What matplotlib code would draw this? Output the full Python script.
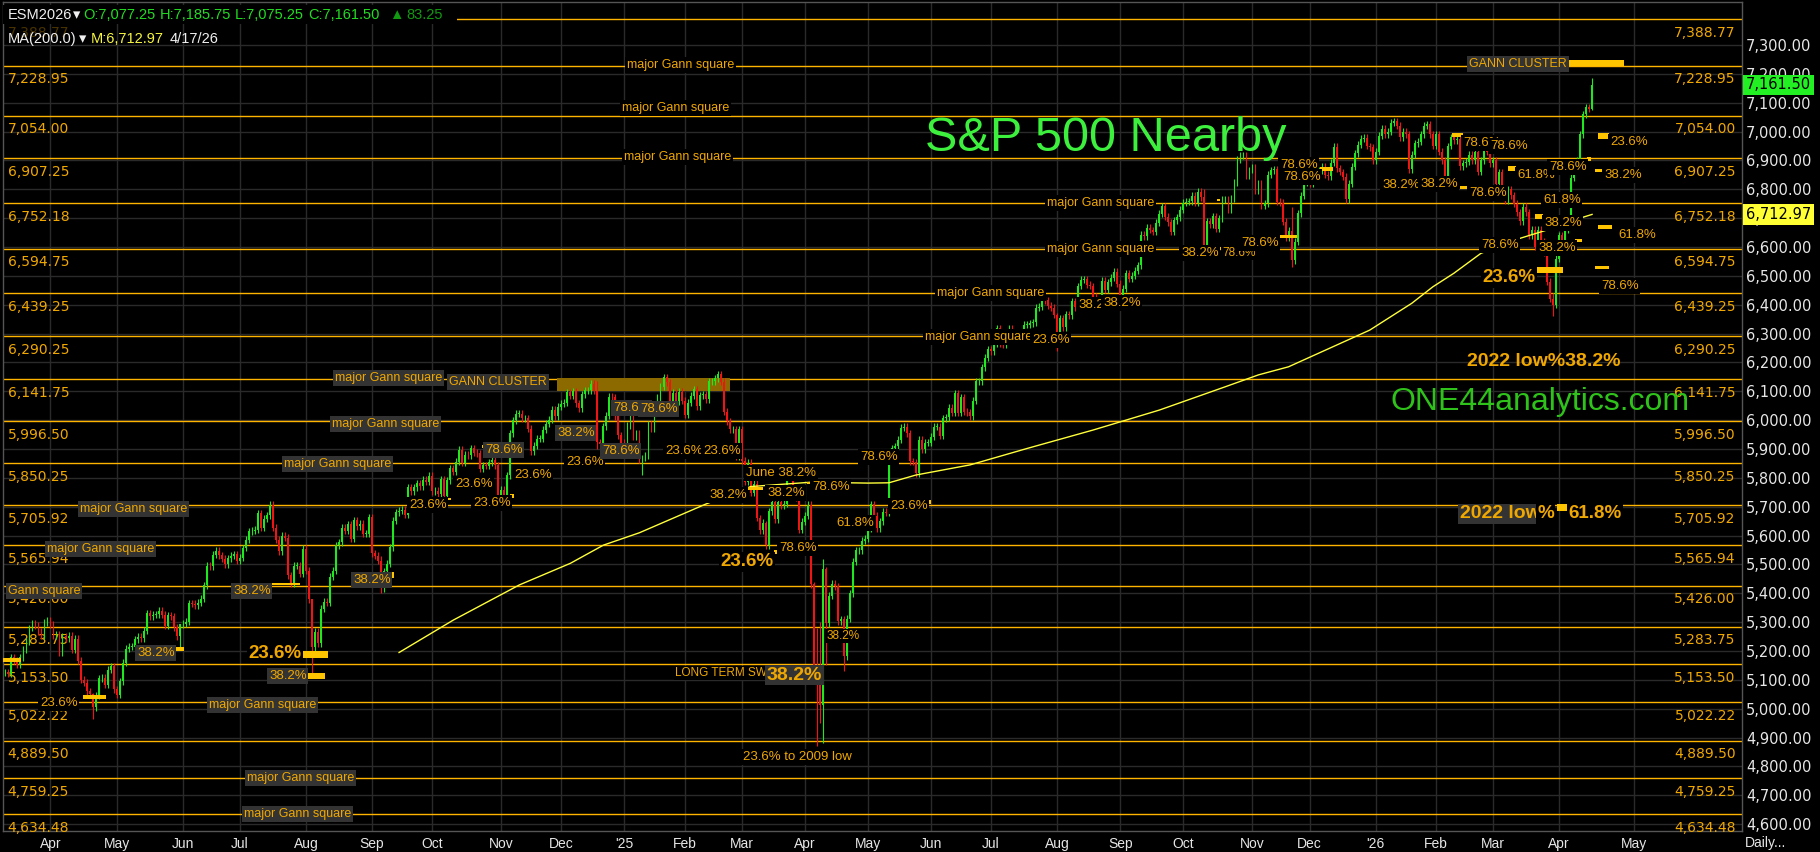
import numpy as np
import pandas as pd
import matplotlib
matplotlib.use('Agg')
import matplotlib.pyplot as plt
from matplotlib.patches import Rectangle

plt.rcParams['font.family'] = ['Liberation Sans', 'DejaVu Sans']

# ---------------- data ----------------
holidays = ['2024-03-29', '2024-05-27', '2024-06-19', '2024-07-04', '2024-09-02',
            '2024-11-28', '2024-12-25', '2025-01-01', '2025-01-09', '2025-01-20',
            '2025-02-17', '2025-04-18', '2025-05-26', '2025-06-19', '2025-07-04',
            '2025-09-01', '2025-11-27', '2025-12-25', '2026-01-01', '2026-01-19',
            '2026-02-16', '2026-04-03']
dates = pd.bdate_range('2024-03-08', '2026-04-17')
dates = dates[~dates.isin(pd.to_datetime(holidays))]

# daily closes of the nearby contract, month by month
c_2024_03 = [5127, 5121, 5178, 5168, 5153, 5178, 5204, 5233, 5280, 5296, 5289, 5269, 5255, 5300, 5305]
c_2024_04 = [5291, 5253, 5258, 5194, 5251, 5245, 5253, 5204, 5242, 5166, 5101, 5090, 5061, 5050, 5006,
             5046, 5106, 5107, 5083, 5135, 5147, 5067]
c_2024_05 = [5049, 5095, 5159, 5208, 5215, 5215, 5241, 5250, 5244, 5270, 5331, 5320, 5326, 5327, 5340,
             5326, 5287, 5324, 5321, 5282, 5251, 5293]
c_2024_06 = [5294, 5302, 5365, 5364, 5358, 5368, 5382, 5428, 5496, 5493, 5533, 5547, 5532, 5520, 5500,
             5521, 5530, 5535, 5512]
c_2024_07 = [5523, 5557, 5585, 5615, 5617, 5621, 5678, 5628, 5659, 5671, 5707, 5628, 5585, 5545, 5600,
             5592, 5463, 5435, 5495, 5495, 5468, 5554]
c_2024_08 = [5479, 5379, 5213, 5267, 5227, 5346, 5371, 5367, 5457, 5478, 5566, 5577, 5627, 5616, 5640,
             5590, 5654, 5632, 5641, 5607, 5607, 5663]
c_2024_09 = [5539, 5530, 5513, 5418, 5477, 5502, 5560, 5652, 5681, 5687, 5689, 5672, 5767, 5754, 5768,
             5782, 5771, 5794, 5787, 5808]
c_2024_10 = [5754, 5755, 5745, 5796, 5737, 5792, 5833, 5821, 5856, 5897, 5852, 5880, 5879, 5902, 5888,
             5885, 5831, 5844, 5842, 5854, 5863, 5844, 5735]
c_2024_11 = [5759, 5739, 5809, 5955, 5999, 6022, 6023, 6006, 6007, 5971, 5893, 5912, 5935, 5935, 5967,
             5987, 6001, 6036, 6013, 6046]
c_2024_12 = [6057, 6060, 6097, 6085, 6100, 6059, 6041, 6090, 6104, 6104, 6126, 6102, 5923, 5917, 5979,
             6016, 6082, 6080, 6013, 5947, 5922]
c_2025_01 = [5907, 5981, 6011, 5945, 5954, 5863, 5870, 5877, 5984, 5971, 6031, 6079, 6116, 6149, 6131,
             6039, 6095, 6066, 6098, 6067]
c_2025_02 = [6018, 6061, 6085, 6107, 6049, 6086, 6089, 6072, 6135, 6135, 6146, 6160, 6134, 6029, 5996,
             5968, 5969, 5875, 5968]
c_2025_03 = [5859, 5787, 5852, 5748, 5779, 5661, 5618, 5645, 5567, 5684, 5717, 5657, 5717, 5705, 5710,
             5807, 5816, 5751, 5732, 5620, 5648]
c_2025_04 = [5669, 5707, 5433, 5110, 5091, 5012, 5486, 5297, 5392, 5433, 5424, 5303, 5310, 5182, 5312,
             5400, 5509, 5549, 5550, 5582, 5590]
c_2025_05 = [5625, 5708, 5669, 5626, 5650, 5683, 5679, 5860, 5903, 5909, 5933, 5974, 5977, 5954, 5858,
             5855, 5816, 5932, 5899, 5922, 5922]
c_2025_06 = [5943, 5977, 5978, 5946, 6007, 6010, 6043, 6026, 6093, 6025, 6079, 6029, 6027, 6014, 6068,
             6135, 6135, 6184, 6216, 6245]
c_2025_07 = [6238, 6267, 6319, 6266, 6262, 6299, 6317, 6296, 6302, 6277, 6297, 6330, 6330, 6336, 6340,
             6389, 6393, 6419, 6416, 6397, 6389, 6365]
c_2025_08 = [6264, 6353, 6322, 6368, 6363, 6412, 6392, 6465, 6486, 6488, 6469, 6465, 6427, 6412, 6386,
             6483, 6451, 6478, 6493, 6514, 6472]
c_2025_09 = [6424, 6456, 6510, 6490, 6500, 6518, 6537, 6642, 6638, 6667, 6659, 6652, 6684, 6716, 6742,
             6705, 6686, 6653, 6692, 6703, 6730]
c_2025_10 = [6753, 6757, 6758, 6778, 6753, 6792, 6773, 6591, 6690, 6679, 6706, 6664, 6699, 6766, 6766,
             6730, 6769, 6823, 6902, 6918, 6918, 6849, 6867]
c_2025_11 = [6875, 6795, 6819, 6743, 6752, 6851, 6866, 6870, 6757, 6753, 6687, 6632, 6657, 6554, 6618,
             6717, 6778, 6825, 6861]
c_2025_12 = [6821, 6837, 6858, 6865, 6878, 6851, 6845, 6892, 6948, 6873, 6860, 6844, 6765, 6819, 6878,
             6925, 6955, 6975, 6978, 6950, 6945, 6900]
c_2026_01 = [6930, 6985, 7010, 6990, 7000, 7030, 7035, 7020, 6980, 7000, 6990, 6870, 6920, 6960, 6965,
             6990, 7020, 7025, 6990, 6950]
c_2026_02 = [6990, 6930, 6900, 6820, 6950, 6980, 6970, 6975, 6880, 6890, 6895, 6920, 6900, 6930, 6860,
             6900, 6960, 6930, 6890]
c_2026_03 = [6900, 6820, 6860, 6790, 6760, 6800, 6780, 6750, 6720, 6690, 6740, 6720, 6640, 6660, 6600,
             6660, 6620, 6580, 6480, 6420, 6400, 6560]
c_2026_04 = [6640, 6600, 6660, 6700, 6840, 6870, 6900, 6990, 7060, 7085, 7078.25, 7161.50]

closes = np.array(c_2024_03 + c_2024_04 + c_2024_05 + c_2024_06 + c_2024_07 + c_2024_08 +
                  c_2024_09 + c_2024_10 + c_2024_11 + c_2024_12 + c_2025_01 + c_2025_02 +
                  c_2025_03 + c_2025_04 + c_2025_05 + c_2025_06 + c_2025_07 + c_2025_08 +
                  c_2025_09 + c_2025_10 + c_2025_11 + c_2025_12 + c_2026_01 + c_2026_02 +
                  c_2026_03 + c_2026_04, dtype=float)
assert len(closes) == len(dates), (len(closes), len(dates))

# days whose high / low stick out well beyond the body
bar_extremes = {
    '2024-04-19': (5055, 4963), '2024-05-31': (5295, 5207), '2024-08-05': (5380, 5120),
    '2024-09-06': (5530, 5400), '2024-12-18': (6135, 5900), '2025-01-13': (5880, 5810),
    '2025-03-13': (5650, 5555), '2025-04-03': (5720, 5420), '2025-04-04': (5440, 5100),
    '2025-04-07': (5280, 4870), '2025-04-08': (5300, 4950), '2025-04-09': (5520, 4880),
    '2025-04-10': (5490, 5150), '2025-04-21': (5320, 5130), '2025-08-01': (6370, 6238),
    '2025-10-10': (6800, 6560), '2025-11-20': (6740, 6530), '2026-03-30': (6440, 6360),
}

last_bar = {'open': 7077.25, 'high': 7185.75, 'low': 7075.25, 'close': 7161.50, 'chg': 83.25}

ma_dates = ['2024-09-16', '2024-10-10', '2024-11-11', '2024-12-05', '2024-12-20', '2025-01-10',
            '2025-02-12', '2025-03-06', '2025-04-03', '2025-05-01', '2025-05-12', '2025-05-23',
            '2025-06-20', '2025-07-18', '2025-08-19', '2025-09-19', '2025-10-21', '2025-11-05',
            '2025-11-19', '2025-12-30', '2026-01-21', '2026-01-30', '2026-02-10', '2026-02-24',
            '2026-03-13', '2026-03-26', '2026-04-13', '2026-04-17']
ma_vals = [5195, 5307, 5429, 5504, 5567, 5610, 5709, 5770, 5785, 5782, 5783, 5810, 5845, 5902,
           5966, 6035, 6116, 6157, 6185, 6312, 6405, 6462, 6509, 6578, 6630, 6659, 6700, 6712.97]

gann_levels = [7388.77, 7228.95, 7054.00, 6907.25, 6752.18, 6594.75, 6439.25, 6290.25, 6141.75,
               5996.50, 5850.25, 5705.92, 5565.94, 5426.00, 5283.75, 5153.50, 5022.22, 4889.50,
               4759.25, 4634.48]

# ---------------- figure ----------------
W, H = 1820, 852
fig = plt.figure(figsize=(W / 100, H / 100), dpi=100, facecolor='black')
ax = fig.add_axes([3 / W, (H - 831) / H, 1739 / W, 829 / H], facecolor='black')
ov = fig.add_axes([0, 0, 1, 1], facecolor='none', zorder=5)
ov.set_xlim(0, W)
ov.set_ylim(H, 0)
ov.axis('off')

lab_col = '#f0a800'
line_col = '#ffb400'
txt_col = '#e6e6e6'
num_font = ['DejaVu Sans']

n = len(closes)
x = np.arange(n)
opens = np.r_[closes[0], closes[:-1]]
opens[-1] = last_bar['open']
wick = 12
highs = np.maximum(opens, closes) + wick
lows = np.minimum(opens, closes) - wick
for d, (hi, lo) in bar_extremes.items():
    i = dates.get_loc(pd.Timestamp(d))
    highs[i], lows[i] = hi, lo
highs[-1] = last_bar['high']
lows[-1] = last_bar['low']
colors = np.where(closes >= opens, '#1ee81e', '#f01414')

ax.vlines(x, lows, highs, colors=colors, lw=0.8, zorder=3)
ax.bar(x, np.maximum(np.abs(closes - opens), 2), bottom=np.minimum(opens, closes),
       width=0.62, color=colors, lw=0, zorder=3)

ma_x = dates.get_indexer(pd.to_datetime(ma_dates))
ax.plot(ma_x, ma_vals, color='#ffff3a', lw=1.0, zorder=4)

for lv in gann_levels:
    ax.axhline(lv, color=line_col, lw=1.0, zorder=2)
    ax.annotate(f'{lv:,.2f}', xy=(1, lv), xycoords=ax.get_yaxis_transform(),
                xytext=(-4.5, -9.7), textcoords='offset points', ha='right', va='center',
                color=lab_col, fontsize=10, family=num_font, zorder=2.6)
    ax.annotate(f'{lv:,.2f}', xy=(0, lv), xycoords=ax.get_yaxis_transform(),
                xytext=(3.3, -9.7), textcoords='offset points', ha='left', va='center',
                color=lab_col, fontsize=10, family=num_font, zorder=2.6,
                alpha=0.3 if lv == gann_levels[0] else 1)

# gann cluster shading behind the bars
ax.add_patch(Rectangle((557, 378), 173, 13, transform=ov.transData, fc='#8c6a00',
                       ec='none', zorder=2.5, clip_on=False))

# axes
ax.set_xlim(-0.8, 577.9)
ax.set_ylim(4576.5, 7449)
ax.yaxis.tick_right()
yt = np.arange(4600, 7301, 100)
ax.set_yticks(yt)
ax.set_yticklabels([f'{v:,.2f}' for v in yt], family=num_font, fontsize=10.5)

# the empty space after the last bar is laid out in calendar days
future = pd.date_range('2026-04-18', '2026-05-31')
all_days = dates.append(future)
first = np.flatnonzero(~all_days.to_period('M').duplicated())[1:]
ax.set_xticks(first)
ax.set_xticklabels([d.strftime("'%y") if d.month == 1 else d.strftime('%b')
                    for d in all_days[first]])
ax.tick_params(axis='both', length=0, colors=txt_col)
ax.tick_params(axis='x', pad=4, labelsize=10)
ax.tick_params(axis='y', pad=3)
ax.grid(True, color='#2a2a2a', lw=1)
ax.set_axisbelow(True)
for s in ax.spines.values():
    s.set_color('#555555')
    s.set_linewidth(1)

# last price / MA boxes on the price scale
for val, fc in [(last_bar['close'], '#22f022'), (ma_vals[-1], '#ffff33')]:
    ax.annotate(f'{val:,.2f}', xy=(1, val), xycoords=ax.get_yaxis_transform(),
                xytext=(3, 0), textcoords='offset points', ha='left', va='center',
                fontsize=10.5, family=num_font, color='black', annotation_clip=False,
                bbox=dict(boxstyle='square,pad=0.2', fc=fc, ec='none'), zorder=10)

# ---------------- annotations (pixel positions) ----------------
styles = {
    'gbox': dict(fontsize=9, bbox=dict(boxstyle='square,pad=0.15', fc='#333333', ec='none')),
    'gcut': dict(fontsize=9, bbox=dict(boxstyle='square,pad=0.15', fc='black', ec='none')),
    'pbox': dict(fontsize=9.5, bbox=dict(boxstyle='square,pad=0.12', fc='#333333', ec='none')),
    'pcut': dict(fontsize=9.5, bbox=dict(boxstyle='square,pad=0.12', fc='black', ec='none')),
    'small': dict(fontsize=8.5, bbox=dict(boxstyle='square,pad=0.1', fc='black', ec='none')),
    'big': dict(fontsize=13.5, fontweight='bold',
                bbox=dict(boxstyle='square,pad=0.08', fc='black', ec='none')),
    'bigbox': dict(fontsize=14, fontweight='bold',
                   bbox=dict(boxstyle='square,pad=0.08', fc='#333333', ec='none')),
    'bigfree': dict(fontsize=14, fontweight='bold'),
}

notes = [
    (627, 65, 'major Gann square', 'gcut'),
    (622, 108, 'major Gann square', 'gcut'),
    (624, 157, 'major Gann square', 'gcut'),
    (1047, 203, 'major Gann square', 'gcut'),
    (1047, 249, 'major Gann square', 'gcut'),
    (937, 293, 'major Gann square', 'gcut'),
    (925, 337, 'major Gann square', 'gcut'),
    (1032, 340, '23.6%', 'pcut'),
    (335, 378, 'major Gann square', 'gbox'),
    (449, 382, 'GANN CLUSTER', 'gbox'),
    (332, 424, 'major Gann square', 'gbox'),
    (284, 464, 'major Gann square', 'gbox'),
    (80, 509, 'major Gann square', 'gbox'),
    (47, 549, 'major Gann square', 'gbox'),
    (8, 591, 'Gann square', 'gbox'),
    (209, 705, 'major Gann square', 'gbox'),
    (247, 778, 'major Gann square', 'gbox'),
    (244, 814, 'major Gann square', 'gbox'),
    (40, 703, '23.6%', 'pcut'),
    (137, 653, '38.2%', 'pbox'),
    (233, 591, '38.2%', 'pbox'),
    (248, 653, '23.6%', 'big'),
    (269, 676, '38.2%', 'pbox'),
    (353, 580, '38.2%', 'pbox'),
    (409, 505, '23.6%', 'pcut'),
    (455, 484, '23.6%', 'pcut'),
    (473, 503, '23.6%', 'pcut'),
    (485, 450, '78.6%', 'pbox'),
    (514, 475, '23.6%', 'pcut'),
    (557, 433, '38.2%', 'pbox'),
    (566, 462, '23.6%', 'pcut'),
    (602, 451, '78.6%', 'pbox'),
    (613, 408, '78.6%', 'pbox'),
    (640, 409, '78.6%', 'pbox'),
    (665, 451, '23.6%', 'pcut'),
    (703, 451, '23.6%', 'pcut'),
    (746, 473, 'June 38.2%', 'pcut'),
    (709, 495, '38.2%', 'pcut'),
    (767, 493, '38.2%', 'pcut'),
    (812, 487, '78.6%', 'pcut'),
    (720, 562, '23.6%', 'big'),
    (779, 548, '78.6%', 'pcut'),
    (860, 457, '78.6%', 'pcut'),
    (890, 506, '23.6%', 'pcut'),
    (836, 523, '61.8%', 'pcut'),
    (827, 636, '38.2%', 'small'),
    (675, 673, 'LONG TERM SW', 'small'),
    (767, 675, '38.2%', 'bigbox'),
    (743, 757, '23.6% to 2009 low', 'pcut'),
    (1078, 305, '38.2%', 'pcut'),
    (1103, 303, '38.2%', 'pcut'),
    (1181, 253, '38.2%', 'pcut'),
    (1222, 253, '78.6%', 'small'),
    (1241, 243, '78.6%', 'pcut'),
    (1280, 165, '78.6%', 'pcut'),
    (1283, 177, '78.6%', 'pcut'),
    (1382, 185, '38.2%', 'pcut'),
    (1420, 184, '38.2%', 'pcut'),
    (1463, 143, '78.6%', 'pcut'),
    (1490, 146, '78.6%', 'pcut'),
    (1469, 193, '78.6%', 'pcut'),
    (1517, 175, '61.8%', 'pcut'),
    (1549, 167, '78.6%', 'pcut'),
    (1543, 200, '61.8%', 'pcut'),
    (1544, 223, '38.2%', 'pcut'),
    (1481, 245, '78.6%', 'pcut'),
    (1538, 248, '38.2%', 'pcut'),
    (1482, 278, '23.6%', 'big'),
    (1610, 142, '23.6%', 'pcut'),
    (1604, 175, '38.2%', 'pcut'),
    (1618, 235, '61.8%', 'pcut'),
    (1601, 286, '78.6%', 'pcut'),
    (1467, 362, '2022 low%38.2%', 'bigfree'),
    (1460, 514, '2022 low', 'bigbox'),
    (1537, 514, '%', 'big'),
    (1568, 514, '61.8%', 'big'),
    (1469, 64, 'GANN CLUSTER', 'gbox'),
]
for nx, ny, t, st in notes:
    ov.text(nx, ny, t, ha='left', va='center', color=lab_col, **styles[st])

# yellow level markers (x0, x1, y0, y1 in pixels)
marks = [(3, 21, 658, 662), (83, 106, 695, 699), (174, 184, 647, 651), (270, 300, 583, 585),
         (303, 328, 651, 658), (306, 325, 673, 679), (390, 394, 572, 578), (447, 451, 498, 500),
         (510, 514, 494, 498), (482, 485, 445, 448), (747, 763, 487, 490), (807, 811, 482, 484),
         (774, 778, 550, 554), (927, 931, 500, 504), (1067, 1070, 332, 339), (1217, 1220, 199, 201),
         (1218, 1222, 247, 250), (1278, 1297, 235, 238), (1320, 1333, 167, 171),
         (1452, 1463, 133, 137), (1460, 1468, 186, 189), (1508, 1516, 166, 171),
         (1587, 1591, 157, 161), (1535, 1543, 214, 219), (1575, 1582, 239, 242),
         (1537, 1563, 267, 273), (1598, 1609, 133, 139), (1595, 1603, 169, 172),
         (1598, 1612, 225, 229), (1595, 1609, 266, 269), (1557, 1567, 504, 511),
         (1569, 1624, 60, 66)]
for x0, x1, y0, y1 in marks:
    ov.add_patch(Rectangle((x0, y0), x1 - x0, y1 - y0, fc='#ffc400', ec='none'))

# titles
ov.text(925, 151, 'S&P 500 Nearby', color='#3ef03e', fontsize=35, va='baseline')
ov.text(1390, 410, 'ONE44analytics.com', color='#2ec21a', fontsize=23, va='baseline')

# header
ov.add_patch(Rectangle((3, 5), 454, 19, fc='black', ec='none'))
hdr = [(8, 'ESM2026', '#f0f0f0'), (73, '\u25be', '#f0f0f0'),
       (83, f"O:{last_bar['open']:,.2f}", '#22dd22'), (160, f"H:{last_bar['high']:,.2f}", '#22dd22'),
       (235, f"L:{last_bar['low']:,.2f}", '#22dd22'), (308, f"C:{last_bar['close']:,.2f}", '#22dd22'),
       (389, '\u25b2', '#119911'), (406, f"{last_bar['chg']:.2f}", '#119911')]
for hx, t, c in hdr:
    ov.text(hx, 15, t, color=c, fontsize=10.5, va='center')
hdr2 = [(8, 'MA(200.0)', '#f0f0f0'), (79, '\u25be', '#f0f0f0'),
        (91, f'M:{ma_vals[-1]:,.2f}', '#f5f542'), (170, '4/17/26', '#f0f0f0')]
for hx, t, c in hdr2:
    ov.text(hx, 39, t, color=c, fontsize=10.5, va='center')

ov.text(1745, 843, 'Daily...', color=txt_col, fontsize=10, va='center')

fig.savefig('out.png', dpi=100, facecolor='black')
